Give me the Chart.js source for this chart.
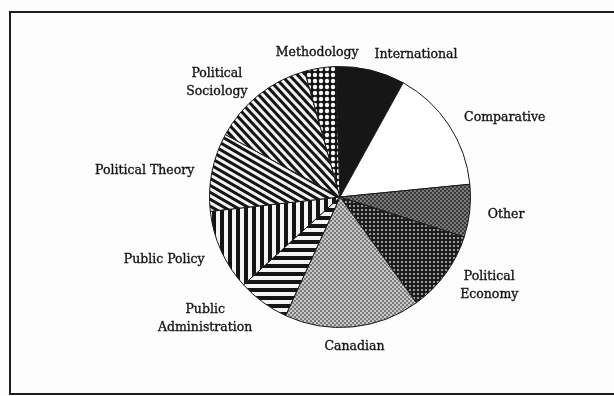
<!DOCTYPE html>
<html>
<head>
<meta charset="utf-8">
<script src="https://cdn.jsdelivr.net/npm/chart.js@4"></script>
<style>
  html, body { margin: 0; padding: 0; background: #fdfdfd; }
  canvas { display: block; }
</style>
</head>
<body>
<canvas id="fields" width="614" height="396"></canvas>
<script>
// share of each field (percent), clockwise from 12 o'clock
var fields = ["International", "Comparative", "Other", "Political\nEconomy", "Canadian",
              "Public\nAdministration", "Public Policy", "Political Theory", "Political\nSociology", "Methodology"];
var shares = [8.6, 15.4, 6.5, 10.1, 16.8, 6.4, 10.0, 9.7, 12.7, 3.8];

// --- fill patterns -------------------------------------------------------
function tile(w, h, draw) {
  var c = document.createElement('canvas');
  c.width = w; c.height = h;
  draw(c.getContext('2d'), w, h);
  return c;
}

var main = document.getElementById('fields').getContext('2d');

function stripes(period, dark, angle) {
  var t = tile(period, period, function (g, w, h) {
    g.fillStyle = '#f4f4f4'; g.fillRect(0, 0, w, h);
    g.fillStyle = '#141414'; g.fillRect(0, 0, w, dark);
  });
  var p = main.createPattern(t, 'repeat');
  if (angle) p.setTransform(new DOMMatrix().rotate(angle));
  return p;
}

function dots(size, bg, fg, r) {
  var t = tile(size, size, function (g, w, h) {
    g.fillStyle = bg; g.fillRect(0, 0, w, h);
    g.fillStyle = fg;
    g.beginPath(); g.arc(w / 2, h / 2, r, 0, Math.PI * 2); g.fill();
  });
  return main.createPattern(t, 'repeat');
}

function checker(cell, a, b) {
  var t = tile(cell * 2, cell * 2, function (g, w, h) {
    g.fillStyle = a; g.fillRect(0, 0, w, h);
    g.fillStyle = b;
    g.fillRect(0, 0, cell, cell);
    g.fillRect(cell, cell, cell, cell);
  });
  return main.createPattern(t, 'repeat');
}

var fills = [
  '#161616',                              // International
  '#ffffff',                              // Comparative
  checker(2, '#3c3c3c', '#7a7a7a'),       // Other
  dots(4, '#1c1c1c', '#b8b8b8', 1.1),     // Political Economy
  checker(2, '#7a7a7a', '#c8c8c8'),       // Canadian
  stripes(8, 4, 0),                       // Public Administration
  stripes(8, 4, 90),                      // Public Policy
  stripes(6, 3, 30),                      // Political Theory
  stripes(6, 3, 47),                      // Political Sociology
  dots(6, '#141414', '#f6f6f6', 2.2)      // Methodology
];

// --- frame and outside labels -------------------------------------------
var frame = {
  id: 'frame',
  beforeDraw: function (chart) {
    var g = chart.ctx;
    g.save();
    g.strokeStyle = '#1e1e1e';
    g.lineWidth = 2;
    g.strokeRect(10, 12, 620, 382);
    g.restore();
  }
};

var outsideLabels = {
  id: 'outsideLabels',
  afterDatasetsDraw: function (chart) {
    var g = chart.ctx;
    var arcs = chart.getDatasetMeta(0).data;
    g.save();
    g.font = '12.5px "DejaVu Serif", serif';
    g.fillStyle = '#141414';
    g.strokeStyle = '#141414';
    g.lineWidth = 0.35;
    g.textBaseline = 'middle';
    g.textAlign = 'center';
    arcs.forEach(function (arc, i) {
      var mid = (arc.startAngle + arc.endAngle) / 2;
      var r = arc.outerRadius + 18;
      var px = arc.x + Math.cos(mid) * r;
      var py = arc.y + Math.sin(mid) * r + 2;
      var lines = chart.data.labels[i].split('\n');
      var w = Math.max.apply(null, lines.map(function (s) { return g.measureText(s).width; }));
      var cx = px;
      if (Math.cos(mid) > 0.2) cx = px + w / 2;
      else if (Math.cos(mid) < -0.2) cx = px - w / 2;
      var lh = 18;
      var y0 = py - (lines.length - 1) * lh / 2;
      lines.forEach(function (s, k) {
        g.fillText(s, cx, y0 + k * lh);
        g.strokeText(s, cx, y0 + k * lh);
      });
    });
    g.restore();
  }
};

new Chart(main, {
  type: 'pie',
  data: {
    labels: fields,
    datasets: [{
      data: shares,
      backgroundColor: fills,
      borderColor: '#1a1a1a',
      borderWidth: 1
    }]
  },
  options: {
    responsive: false,
    animation: false,
    rotation: -2,
    layout: { padding: { left: 209, right: 143, top: 66, bottom: 68 } },
    plugins: { legend: { display: false }, tooltip: { enabled: false } }
  },
  plugins: [frame, outsideLabels]
});
</script>
</body>
</html>
